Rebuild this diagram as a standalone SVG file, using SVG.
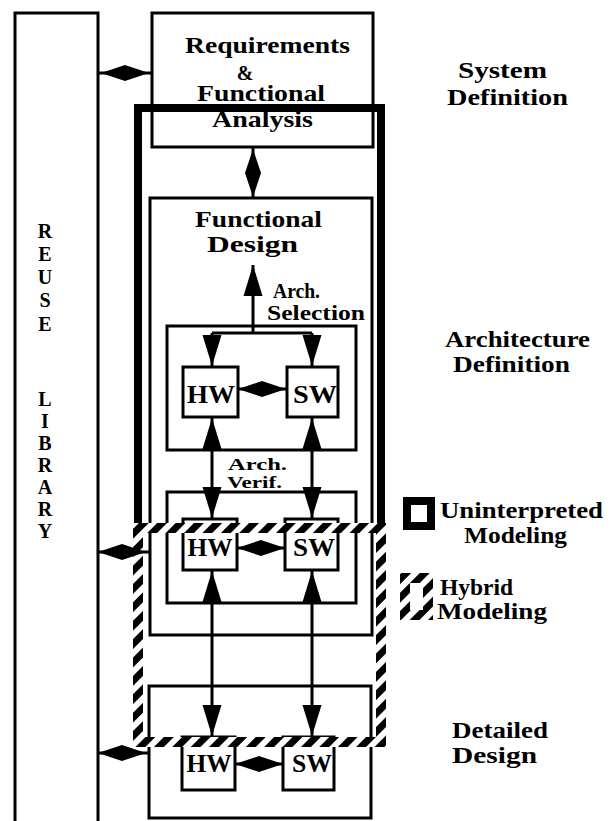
<svg xmlns="http://www.w3.org/2000/svg" width="612" height="821" viewBox="0 0 612 821">
<style>
.box{fill:none;stroke:#000;stroke-width:3}
.thick{fill:none;stroke:#000;stroke-width:8}
.hatch{fill:none;stroke:url(#hatch);stroke-width:10}
.ln{fill:none;stroke:#000;stroke-width:3}
.t{font-family:"Liberation Serif","Times New Roman",serif;font-weight:bold;font-size:24px;fill:#000}
.c{text-anchor:middle}
.s{font-size:21px}
.v{font-size:17px}
.hw{font-size:26px;text-anchor:middle}
.lib{font-size:20px;text-anchor:middle}
</style>
<defs>
<pattern id="hatch" patternUnits="userSpaceOnUse" width="13" height="13" patternTransform="rotate(45)">
<rect width="13" height="13" fill="#fff"/>
<rect width="7" height="13" fill="#000"/>
</pattern>
<marker id="ah" markerUnits="userSpaceOnUse" markerWidth="32" markerHeight="20" refX="31" refY="10" orient="auto-start-reverse" viewBox="0 0 32 20">
<path d="M0,0.5 L31,10 L0,19.5 z" fill="#000"/>
</marker>
<path id="dia" d="M-24,0 L0,-8 L24,0 L0,8 z" fill="#000"/>
</defs>

<g id="reuse-library">
<path class="box" d="M15,821 L15,13 L98,13 L98,821"/>
<text class="t lib" x="45" y="238">R</text>
<text class="t lib" x="45" y="261">E</text>
<text class="t lib" x="45" y="284">U</text>
<text class="t lib" x="45" y="307">S</text>
<text class="t lib" x="45" y="331">E</text>
<text class="t lib" x="45" y="406">L</text>
<text class="t lib" x="45" y="428">I</text>
<text class="t lib" x="45" y="450">B</text>
<text class="t lib" x="45" y="472">R</text>
<text class="t lib" x="45" y="494">A</text>
<text class="t lib" x="45" y="516">R</text>
<text class="t lib" x="45" y="538">Y</text>
</g>

<g id="requirements">
<rect class="box" x="152" y="13" width="221" height="134"/>
<text class="t c" x="267.5" y="53" textLength="165" lengthAdjust="spacingAndGlyphs">Requirements</text>
<text class="t c" x="245" y="80" style="font-size:20px">&amp;</text>
<text class="t c" x="261" y="101" textLength="128" lengthAdjust="spacingAndGlyphs">Functional</text>
<text class="t c" x="262.5" y="127" textLength="101" lengthAdjust="spacingAndGlyphs">Analysis</text>
</g>

<g id="functional-design">
<rect class="box" x="150" y="198" width="222" height="437"/>
<text class="t c" x="258.5" y="227" textLength="127" lengthAdjust="spacingAndGlyphs">Functional</text>
<text class="t c" x="252.5" y="252" textLength="91" lengthAdjust="spacingAndGlyphs">Design</text>
</g>

<g id="arch-selection">
<rect class="box" x="167" y="326" width="189" height="124"/>
<text class="t s" x="273" y="298" textLength="47" lengthAdjust="spacingAndGlyphs">Arch.</text>
<text class="t s" x="267" y="320" textLength="98" lengthAdjust="spacingAndGlyphs">Selection</text>
</g>

<g id="hw1"><rect class="box" x="183" y="367" width="55" height="50"/><text class="t hw" x="211" y="403" textLength="48" lengthAdjust="spacingAndGlyphs">HW</text></g>
<g id="sw1"><rect class="box" x="287" y="367" width="51" height="50"/><text class="t hw" x="315" y="403" textLength="44" lengthAdjust="spacingAndGlyphs">SW</text></g>

<g id="arch-verif">
<rect class="box" x="167" y="492" width="189" height="111"/>
<text class="t v" x="228" y="470" textLength="59" lengthAdjust="spacingAndGlyphs">Arch.</text>
<text class="t v" x="227" y="488" textLength="55" lengthAdjust="spacingAndGlyphs">Verif.</text>
</g>

<g id="hw2"><rect class="box" x="183" y="519" width="54" height="51"/><text class="t hw" x="210" y="556" textLength="45" lengthAdjust="spacingAndGlyphs">HW</text></g>
<g id="sw2"><rect class="box" x="285" y="519" width="53" height="51"/><text class="t hw" x="314" y="556" textLength="42" lengthAdjust="spacingAndGlyphs">SW</text></g>

<g id="detailed-design">
<rect class="box" x="149" y="686" width="222" height="132"/>
</g>
<g id="hw3"><rect class="box" x="182" y="737" width="53" height="53"/><text class="t hw" x="209" y="772" textLength="45" lengthAdjust="spacingAndGlyphs">HW</text></g>
<g id="sw3"><rect class="box" x="283" y="737" width="51" height="53"/><text class="t hw" x="312" y="772" textLength="40" lengthAdjust="spacingAndGlyphs">SW</text></g>

<g id="uninterpreted-region">
<path class="thick" d="M138,524 L138,108 L381,108 L381,524"/>
</g>
<g id="hybrid-region">
<rect class="hatch" x="138" y="528" width="243" height="214"/>
</g>

<g id="connectors">
<line class="ln" x1="98" y1="73" x2="152" y2="73"/>
<use href="#dia" transform="translate(125,73)"/>
<line class="ln" x1="253" y1="147" x2="253" y2="198"/>
<use href="#dia" transform="translate(253,173) rotate(90)"/>
<path class="ln" d="M253,333 L253,265" marker-end="url(#ah)"/>
<path class="ln" d="M212,333 L312,333"/>
<path class="ln" d="M212,333 L212,366" marker-end="url(#ah)"/>
<path class="ln" d="M312,333 L312,366" marker-end="url(#ah)"/>
<line class="ln" x1="238" y1="389" x2="287" y2="389"/>
<use href="#dia" transform="translate(262,389)"/>
<path class="ln" d="M212,418 L212,518" marker-start="url(#ah)" marker-end="url(#ah)"/>
<path class="ln" d="M312,418 L312,518" marker-start="url(#ah)" marker-end="url(#ah)"/>
<line class="ln" x1="98" y1="552" x2="150" y2="552"/>
<use href="#dia" transform="translate(122,552)"/>
<line class="ln" x1="237" y1="548" x2="285" y2="548"/>
<use href="#dia" transform="translate(261,548)"/>
<path class="ln" d="M212,571 L212,736" marker-start="url(#ah)" marker-end="url(#ah)"/>
<path class="ln" d="M312,571 L312,736" marker-start="url(#ah)" marker-end="url(#ah)"/>
<line class="ln" x1="98" y1="753" x2="149" y2="753"/>
<use href="#dia" transform="translate(122,753)"/>
<line class="ln" x1="235" y1="764" x2="283" y2="764"/>
<use href="#dia" transform="translate(259,764)"/>
</g>

<g id="phase-labels">
<text class="t c" x="502.5" y="78" textLength="89" lengthAdjust="spacingAndGlyphs">System</text>
<text class="t c" x="507.5" y="105" textLength="121" lengthAdjust="spacingAndGlyphs">Definition</text>
<text class="t c" x="517.5" y="347" textLength="145" lengthAdjust="spacingAndGlyphs">Architecture</text>
<text class="t c" x="511.5" y="372" textLength="117" lengthAdjust="spacingAndGlyphs">Definition</text>
<text class="t" x="452" y="738" textLength="96" lengthAdjust="spacingAndGlyphs">Detailed</text>
<text class="t" x="452" y="763" textLength="85" lengthAdjust="spacingAndGlyphs">Design</text>
</g>

<g id="legend-uninterpreted">
<rect class="thick" x="407" y="501" width="24" height="25"/>
<text class="t" x="440" y="518" textLength="163" lengthAdjust="spacingAndGlyphs">Uninterpreted</text>
<text class="t" x="464" y="543" textLength="103" lengthAdjust="spacingAndGlyphs">Modeling</text>
</g>
<g id="legend-hybrid">
<rect class="hatch" x="405" y="578" width="23" height="37"/>
<text class="t" x="440" y="595" textLength="73" lengthAdjust="spacingAndGlyphs">Hybrid</text>
<text class="t" x="437" y="619" textLength="110" lengthAdjust="spacingAndGlyphs">Modeling</text>
</g>
</svg>
